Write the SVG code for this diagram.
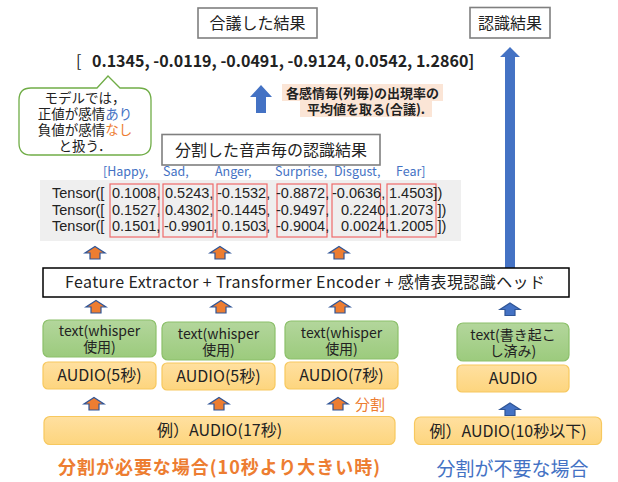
<svg xmlns="http://www.w3.org/2000/svg" width="618" height="482" viewBox="0 0 618 482">
<style>
text{font-family:"Noto Sans CJK JP","Noto Sans",sans-serif;fill:#222;}
.t16{font-size:16px;}
.t14{font-size:14px;}
.mono{font-family:"Liberation Sans","Noto Sans CJK JP",sans-serif;font-size:14.5px;}
.lbl{font-size:12.5px;fill:#4472C4;}
.tbox{fill:#fff;stroke:#7f7f7f;stroke-width:1.6;}
.green{fill:url(#gg);stroke:#8cc06a;stroke-width:1.2;}
.orange{fill:url(#og);stroke:#f7c85e;stroke-width:1.2;}
.red{fill:none;stroke:#ee6a6a;stroke-width:1.2;}
.oa{fill:#ED7D31;stroke:#2f5597;stroke-width:1.2;}
.ba{fill:#4472C4;stroke:#2f5597;stroke-width:1.2;}
.mid{text-anchor:middle;}
</style>
<defs>
<linearGradient id="gg" x1="0" y1="0" x2="0" y2="1"><stop offset="0" stop-color="#b3d69c"/><stop offset="1" stop-color="#9ccb7d"/></linearGradient>
<linearGradient id="og" x1="0" y1="0" x2="0" y2="1"><stop offset="0" stop-color="#ffe0a0"/><stop offset="1" stop-color="#fdd57e"/></linearGradient>
<path id="arr" d="M0,0 L10,6.5 L5,6.5 L5,12.5 L-5,12.5 L-5,6.5 L-10,6.5 Z"/>
</defs>

<g id="connectors">
<path d="M510,47 L520,57 L515,57 L515,285 L505,285 L505,57 L500,57 Z" fill="#4472C4"/>
<path d="M261,85 L272,97 L266,97 L266,113 L256,113 L256,97 L250,97 Z" fill="#4472C4"/>
<use href="#arr" x="95" y="246.5" class="oa"/>
<use href="#arr" x="220" y="246.5" class="oa"/>
<use href="#arr" x="339" y="246.5" class="oa"/>
<use href="#arr" x="96" y="300.5" class="oa"/>
<use href="#arr" x="221" y="300.5" class="oa"/>
<use href="#arr" x="340" y="300.5" class="oa"/>
<use href="#arr" x="510" y="303" class="ba"/>
<use href="#arr" x="94" y="397.5" class="oa"/>
<use href="#arr" x="219" y="397.5" class="oa"/>
<use href="#arr" x="338" y="397.5" class="oa"/>
<use href="#arr" x="510" y="403" class="ba"/>
</g>

<g id="result-consensus">
<rect x="198" y="8" width="119" height="30" class="tbox"/>
<text x="257.5" y="29" class="t16 mid">合議した結果</text>
</g>
<g id="result-recog">
<rect x="470" y="7.5" width="80" height="30.5" class="tbox"/>
<text x="510" y="28.5" class="t16 mid">認識結果</text>
</g>

<g id="consensus-values">
<text y="67" class="t16"><tspan x="76">[</tspan><tspan x="92" font-weight="bold">0.1345, -0.0119, -0.0491, -0.9124, 0.0542, 1.2860]</tspan></text>
</g>

<g id="bubble">
<path d="M31,88 L97,88 L108,76 L120,88 L139,88 Q151,88 151,100 L151,143 Q151,155 139,155 L31,155 Q19,155 19,143 L19,100 Q19,88 31,88 Z" fill="#fff" stroke="#70AD47" stroke-width="1.3"/>
<text class="mid" font-size="13.5"><tspan x="85" y="103">モデルでは，</tspan><tspan x="85" y="119">正値が感情<tspan fill="#4472C4">あり</tspan></tspan><tspan x="85" y="135">負値が感情<tspan fill="#ED7D31">なし</tspan></tspan><tspan x="85" y="151">と扱う．</tspan></text>
</g>

<g id="note">
<rect x="282" y="84" width="161" height="17" fill="#fbe5d6"/>
<rect x="300" y="101" width="132" height="16" fill="#fbe5d6"/>
<text class="mid" font-size="13" font-weight="bold"><tspan x="362.5" y="97.5">各感情毎(列毎)の出現率の</tspan><tspan x="366" y="113.5">平均値を取る(合議).</tspan></text>
</g>

<g id="per-segment">
<rect x="162" y="134.5" width="218" height="30.5" class="tbox"/>
<text x="271" y="155.5" class="t16 mid">分割した音声毎の認識結果</text>
</g>

<g id="tensors">
<text y="175.5" class="lbl"><tspan x="103">[Happy,</tspan><tspan x="163">Sad,</tspan><tspan x="215">Anger,</tspan><tspan x="275">Surprise,</tspan><tspan x="334">Disgust,</tspan><tspan x="396">Fear]</tspan></text>
<rect x="40" y="180" width="421" height="61" fill="#efefef"/>
<rect x="110" y="184" width="49" height="53" class="red"/>
<rect x="163" y="184" width="50" height="53" class="red"/>
<rect x="217" y="184" width="50" height="53" class="red"/>
<rect x="277" y="184" width="50" height="53" class="red"/>
<rect x="332" y="184" width="48.5" height="53" class="red"/>
<rect x="387" y="184" width="49" height="53" class="red"/>
<text class="mono"><tspan x="52" y="198">Tensor([</tspan><tspan x="112" y="198">0.1008,</tspan><tspan x="165" y="198">0.5243,</tspan><tspan x="217" y="198">-0.1532,</tspan><tspan x="276" y="198">-0.8872,</tspan><tspan x="332" y="198">-0.0636,</tspan><tspan x="389" y="198">1.4503])</tspan><tspan x="52" y="214.5">Tensor([</tspan><tspan x="112" y="214.5">0.1527,</tspan><tspan x="165" y="214.5">0.4302,</tspan><tspan x="217" y="214.5">-0.1445,</tspan><tspan x="276" y="214.5">-0.9497,</tspan><tspan x="341" y="214.5">0.2240,</tspan><tspan x="389" y="214.5">1.2073 ])</tspan><tspan x="52" y="231">Tensor([</tspan><tspan x="112" y="231">0.1501,</tspan><tspan x="164" y="231">-0.9901,</tspan><tspan x="222" y="231">0.1503,</tspan><tspan x="276" y="231">-0.9004,</tspan><tspan x="341" y="231">0.0024,</tspan><tspan x="389" y="231">1.2005 ])</tspan></text>
</g>

<g id="model">
<rect x="43" y="268" width="526" height="29" fill="#fff" stroke="#000" stroke-width="1.5"/>
<text x="65" y="288" class="t16" textLength="480" lengthAdjust="spacing">Feature Extractor + Transformer Encoder + 感情表現認識ヘッド</text>
</g>

<g id="text1">
<rect x="43" y="320" width="113" height="37" rx="6" class="green"/>
<text class="t14 mid"><tspan x="99.5" y="336">text(whisper</tspan><tspan x="99.5" y="352">使用)</tspan></text>
</g>
<g id="text2">
<rect x="162" y="322" width="113" height="38" rx="6" class="green"/>
<text class="t14 mid"><tspan x="218.5" y="338.5">text(whisper</tspan><tspan x="218.5" y="354.5">使用)</tspan></text>
</g>
<g id="text3">
<rect x="285" y="321" width="113" height="38" rx="6" class="green"/>
<text class="t14 mid"><tspan x="341.5" y="337.5">text(whisper</tspan><tspan x="341.5" y="353.5">使用)</tspan></text>
</g>
<g id="text4">
<rect x="457" y="323" width="112" height="38" rx="6" class="green"/>
<text class="t14 mid"><tspan x="513" y="339.5">text(書き起こ</tspan><tspan x="513" y="355.5">し済み)</tspan></text>
</g>

<g id="audio1">
<rect x="43" y="362" width="113" height="27" rx="5" class="orange"/>
<text x="99.5" y="381" class="t16 mid">AUDIO(5秒)</text>
</g>
<g id="audio2">
<rect x="162" y="363" width="113" height="27" rx="5" class="orange"/>
<text x="218.5" y="382" class="t16 mid">AUDIO(5秒)</text>
</g>
<g id="audio3">
<rect x="285" y="362" width="113" height="27" rx="5" class="orange"/>
<text x="341.5" y="381" class="t16 mid">AUDIO(7秒)</text>
</g>
<g id="audio4">
<rect x="457" y="365" width="112" height="27" rx="5" class="orange"/>
<text x="513" y="384" class="t16 mid">AUDIO</text>
</g>

<g id="split-label">
<text x="355" y="410" font-size="15" style="fill:#ED7D31">分割</text>
</g>

<g id="audio-17">
<rect x="44" y="416.5" width="351" height="28" rx="6" class="orange"/>
<text x="219.5" y="436" class="t16 mid">例）AUDIO(17秒)</text>
</g>
<g id="audio-10">
<rect x="414.5" y="417" width="187" height="27.5" rx="6" class="orange"/>
<text x="508" y="436.5" class="t16 mid">例）AUDIO(10秒以下)</text>
</g>

<g id="captions">
<text x="219" y="474" class="mid" font-size="18" font-weight="bold" style="fill:#ED7D31" textLength="322" lengthAdjust="spacing">分割が必要な場合(10秒より大きい時)</text>
<text x="512.5" y="476" class="mid" font-size="19" style="fill:#4472C4">分割が不要な場合</text>
</g>
</svg>
